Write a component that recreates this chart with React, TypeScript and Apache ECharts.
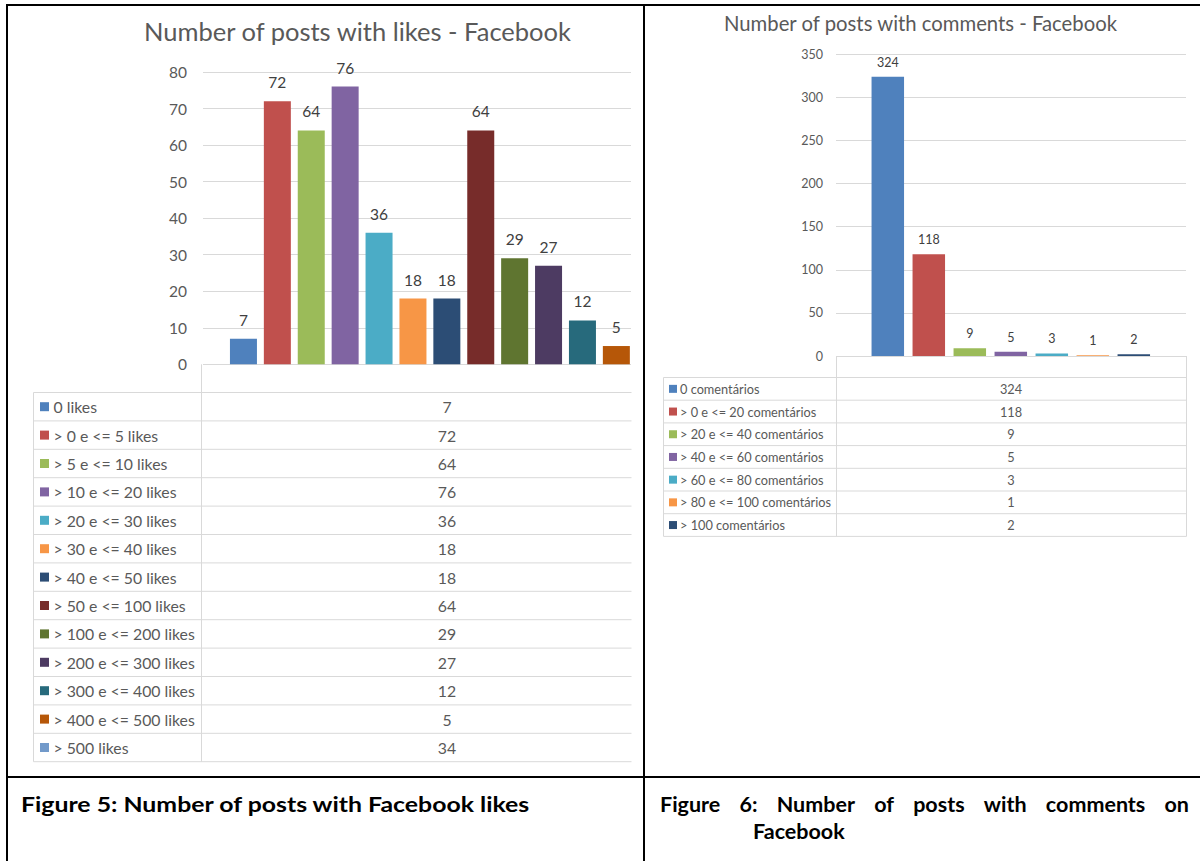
import React, { useEffect, useRef } from "react";
import * as echarts from "echarts";

const likeCats = [
  "0 likes",
  "> 0 e <= 5 likes",
  "> 5 e <= 10 likes",
  "> 10 e <= 20 likes",
  "> 20 e <= 30 likes",
  "> 30 e <= 40 likes",
  "> 40 e <= 50 likes",
  "> 50 e <= 100 likes",
  "> 100 e <= 200 likes",
  "> 200 e <= 300 likes",
  "> 300 e <= 400 likes",
  "> 400 e <= 500 likes",
  "> 500 likes",
];
const likeValues = [7, 72, 64, 76, 36, 18, 18, 64, 29, 27, 12, 5, 34];
const likeColors = [
  "#4F81BD", "#C0504D", "#9BBB59", "#8064A2", "#4BACC6", "#F79646", "#2C4D75",
  "#772C2A", "#5F7530", "#4D3B62", "#276A7C", "#B65708", "#729ACA",
];
const likeTitle = "Number of posts with likes - Facebook";
const likeAxisMax = 80;
const likeAxisStep = 10;

const commentCats = [
  "0 comentários",
  "> 0 e <= 20 comentários",
  "> 20 e <= 40 comentários",
  "> 40 e <= 60 comentários",
  "> 60 e <= 80 comentários",
  "> 80 e <= 100 comentários",
  "> 100 comentários",
];
const commentValues = [324, 118, 9, 5, 3, 1, 2];
const commentColors = ["#4F81BD", "#C0504D", "#9BBB59", "#8064A2", "#4BACC6", "#F79646", "#2C4D75"];
const commentTitle = "Number of posts with comments - Facebook";
const commentAxisMax = 350;
const commentAxisStep = 50;

const caption1 = "Figure 5: Number of posts with Facebook likes";
const caption2Line1 = ["Figure", "6:", "Number", "of", "posts", "with", "comments", "on"];
const caption2Line2 = "Facebook";

const FONT = "Lato, 'Open Sans', sans-serif";
const GRID_COLOR = "#D9D9D9";
const TEXT_COLOR = "#595959";

function measure(text: string, font: string): number {
  const c = document.createElement("canvas").getContext("2d");
  if (!c) return text.length * 8;
  c.font = font;
  return c.measureText(text).width;
}

export default function App() {
  const ref = useRef<HTMLDivElement>(null);

  useEffect(() => {
    if (!ref.current) return;
    const chart = echarts.init(ref.current, undefined, { renderer: "svg" });

    const graphic: any[] = [];
    const line = (x1: number, y1: number, x2: number, y2: number, stroke: string, lw: number) =>
      graphic.push({ type: "line", shape: { x1, y1, x2, y2 }, style: { stroke, lineWidth: lw }, silent: true });
    const text = (x: number, y: number, t: string, font: string, fill: string, align = "left", scaleX = 1) =>
      graphic.push({
        type: "text",
        x,
        y,
        scaleX,
        style: { text: t, font, fill, textAlign: align, textVerticalAlign: "middle" },
        silent: true,
      });

    // Titles
    text(357.5, 31, likeTitle, `25.5px ${FONT}`, TEXT_COLOR, "center");
    text(920.5, 23, commentTitle, `20.3px ${FONT}`, TEXT_COLOR, "center");

    // Left data table
    const lTop = 392.5, lPitch = 28.4, lLeft = 33.5, lSplit = 201.5, lRight = 631.5, lValX = 447;
    line(lSplit, 364.3, lSplit, lTop + lPitch * likeCats.length, GRID_COLOR, 1);
    line(lLeft, lTop, lLeft, lTop + lPitch * likeCats.length, GRID_COLOR, 1);
    for (let i = 0; i <= likeCats.length; i++) {
      const y = lTop + lPitch * i;
      line(lLeft, y, lRight, y, GRID_COLOR, 1);
    }
    likeCats.forEach((c, i) => {
      const cy = lTop + lPitch * (i + 0.5);
      graphic.push({ type: "rect", shape: { x: 40, y: cy - 4.5, width: 9, height: 9 }, style: { fill: likeColors[i] }, silent: true });
      text(53.5, cy, c, `15.8px ${FONT}`, TEXT_COLOR, "left");
      text(lValX, cy, String(likeValues[i]), `15.8px ${FONT}`, TEXT_COLOR, "center");
    });

    // Right data table
    const rTop = 377.5, rPitch = 22.7, rLeft = 663.5, rSplit = 836.5, rRight = 1186.5, rValX = 1011;
    line(rSplit, 356, rSplit, rTop + rPitch * commentCats.length, GRID_COLOR, 1);
    line(rRight, 356, rRight, rTop + rPitch * commentCats.length, GRID_COLOR, 1);
    line(rLeft, rTop, rLeft, rTop + rPitch * commentCats.length, GRID_COLOR, 1);
    for (let i = 0; i <= commentCats.length; i++) {
      const y = rTop + rPitch * i;
      line(rLeft, y, rRight, y, GRID_COLOR, 1);
    }
    commentCats.forEach((c, i) => {
      const cy = rTop + rPitch * (i + 0.5);
      graphic.push({ type: "rect", shape: { x: 669, y: cy - 4, width: 8, height: 8 }, style: { fill: commentColors[i] }, silent: true });
      text(680, cy, c, `12.75px ${FONT}`, TEXT_COLOR, "left");
      text(rValX, cy, String(commentValues[i]), `12.75px ${FONT}`, TEXT_COLOR, "center");
    });

    // Document table borders
    line(6, 5, 1200, 5, "#000", 2);
    line(7, 5, 7, 861, "#000", 2);
    line(644, 5, 644, 861, "#000", 2);
    line(6, 777, 1200, 777, "#000", 2);

    // Captions
    const capFont = `bold 21.5px ${FONT}`;
    const cap1W = measure(caption1, capFont);
    text(21, 804, caption1, capFont, "#000", "left", cap1W > 0 ? 510 / cap1W : 1);
    const wordsW = caption2Line1.map((w) => measure(w, capFont));
    const totalW = wordsW.reduce((a, b) => a + b, 0);
    const capLeft = 660, capRight = 1189;
    const gap = (capRight - capLeft - totalW) / (caption2Line1.length - 1);
    let cx = capLeft;
    caption2Line1.forEach((w, i) => {
      text(cx, 804, w, capFont, "#000", "left");
      cx += wordsW[i] + gap;
    });
    text(753, 831, caption2Line2, capFont, "#000", "left");

    const barLabel = (size: number, dist: number) => ({
      show: true,
      position: "top",
      distance: dist,
      color: "#404040",
      fontFamily: FONT,
      fontSize: size,
    });

    chart.setOption({
      animation: false,
      backgroundColor: "#fff",
      grid: [
        { left: 203, top: 72, width: 428, height: 292.3 },
        { left: 226.5, top: 72, width: 406.8, height: 292.3 },
        { left: 836, top: 54.3, width: 350, height: 301.7 },
        { left: 867.3, top: 54.3, width: 287, height: 301.7 },
      ],
      xAxis: [
        { type: "category", gridIndex: 0, data: [""], show: false },
        { type: "category", gridIndex: 1, data: likeCats, max: 11, show: false },
        { type: "category", gridIndex: 2, data: [""], show: false },
        { type: "category", gridIndex: 3, data: commentCats, show: false },
      ],
      yAxis: [
        {
          type: "value", gridIndex: 0, min: 0, max: likeAxisMax, interval: likeAxisStep,
          axisLine: { show: false }, axisTick: { show: false },
          axisLabel: { color: TEXT_COLOR, fontFamily: FONT, fontSize: 15.5, margin: 16 },
          splitLine: { lineStyle: { color: GRID_COLOR, width: 1 } },
        },
        { type: "value", gridIndex: 1, min: 0, max: likeAxisMax, interval: likeAxisStep, show: false, splitLine: { show: false } },
        {
          type: "value", gridIndex: 2, min: 0, max: commentAxisMax, interval: commentAxisStep,
          axisLine: { show: false }, axisTick: { show: false },
          axisLabel: { color: TEXT_COLOR, fontFamily: FONT, fontSize: 12.5, margin: 13 },
          splitLine: { lineStyle: { color: GRID_COLOR, width: 1 } },
        },
        { type: "value", gridIndex: 3, min: 0, max: commentAxisMax, interval: commentAxisStep, show: false, splitLine: { show: false } },
      ],
      series: [
        {
          type: "bar",
          xAxisIndex: 1,
          yAxisIndex: 1,
          barWidth: 27,
          clip: true,
          data: likeValues.map((v, i) => ({ value: v, itemStyle: { color: likeColors[i] } })),
          label: barLabel(15.5, 11),
        },
        {
          type: "bar",
          xAxisIndex: 3,
          yAxisIndex: 3,
          barWidth: 32.5,
          data: commentValues.map((v, i) => ({ value: v, itemStyle: { color: commentColors[i] } })),
          label: barLabel(12.5, 8),
        },
      ],
      graphic,
    });

    return () => chart.dispose();
  }, []);

  return (
    <div
      ref={ref}
      style={{ position: "absolute", left: 0, top: 0, width: 1200, height: 861 }}
    />
  );
}
